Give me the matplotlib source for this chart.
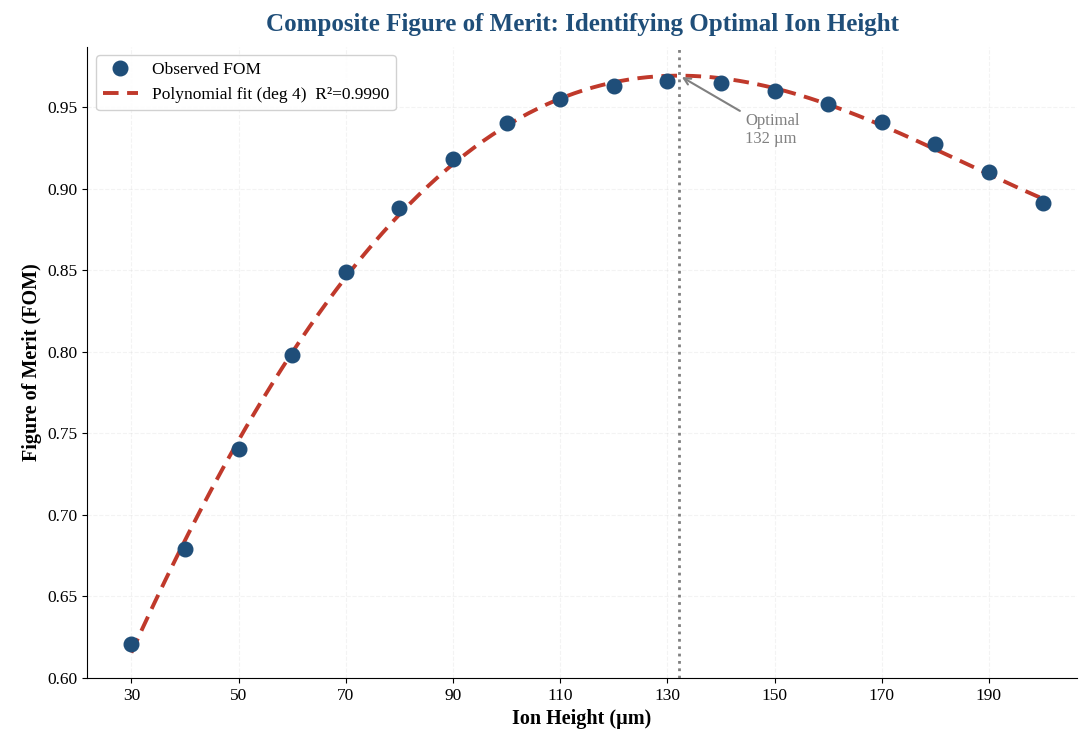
import numpy as np
import matplotlib.pyplot as plt

plt.rcParams['font.family'] = ['Liberation Serif', 'DejaVu Serif']

# ion height (um) and observed figure of merit
heights = np.array([30, 40, 50, 60, 70, 80, 90, 100, 110, 120,
                    130, 140, 150, 160, 170, 180, 190, 200])
fom = np.array([0.621, 0.679, 0.740, 0.798, 0.849, 0.888, 0.918, 0.940, 0.955,
                0.963, 0.966, 0.965, 0.960, 0.952, 0.941, 0.927, 0.910, 0.891])

# polynomial fit, degree 4
coef = np.polyfit(heights, fom, 4)
xs = np.linspace(heights.min(), heights.max(), 400)
ys = np.polyval(coef, xs)
opt_x = xs[np.argmax(ys)]
opt_y = ys.max()

fig = plt.figure(figsize=(10.79, 7.40), dpi=100)
ax = fig.add_axes([0.081, 0.084, 0.917, 0.853])

ax.plot(heights, fom, 'o', color='#1f4e79', markersize=10.5, zorder=3,
        label='Observed FOM')
ax.plot(xs, ys, '--', color='#c0392b', lw=2.8, dashes=(4, 2.2), zorder=2,
        label='Polynomial fit (deg 4)  R²=0.9990')
ax.axvline(opt_x, color='gray', linestyle=':', lw=2)
ax.annotate('Optimal\n132 µm', xy=(opt_x, opt_y), xytext=(144.5, 0.936),
            color='gray', fontsize=12, va='center', ha='left',
            arrowprops=dict(arrowstyle='->', color='gray', lw=1.5))

ax.set_xlim(21.8, 206.4)
ax.set_ylim(0.60, 0.987)
ax.set_xticks(np.arange(30, 200, 20))
ax.tick_params(labelsize=12.5)
ax.grid(True, linestyle='--', alpha=0.15)
ax.spines['top'].set_visible(False)
ax.spines['right'].set_visible(False)
ax.set_xlabel('Ion Height (µm)', fontsize=14.5, fontweight='bold')
ax.set_ylabel('Figure of Merit (FOM)', fontsize=14.5, fontweight='bold')
ax.set_title('Composite Figure of Merit: Identifying Optimal Ion Height',
             fontsize=18, fontweight='bold', color='#1f4e79', pad=11)
ax.legend(loc='upper left', fontsize=12.5, framealpha=0.9)

fig.savefig('out.png', dpi=100)
